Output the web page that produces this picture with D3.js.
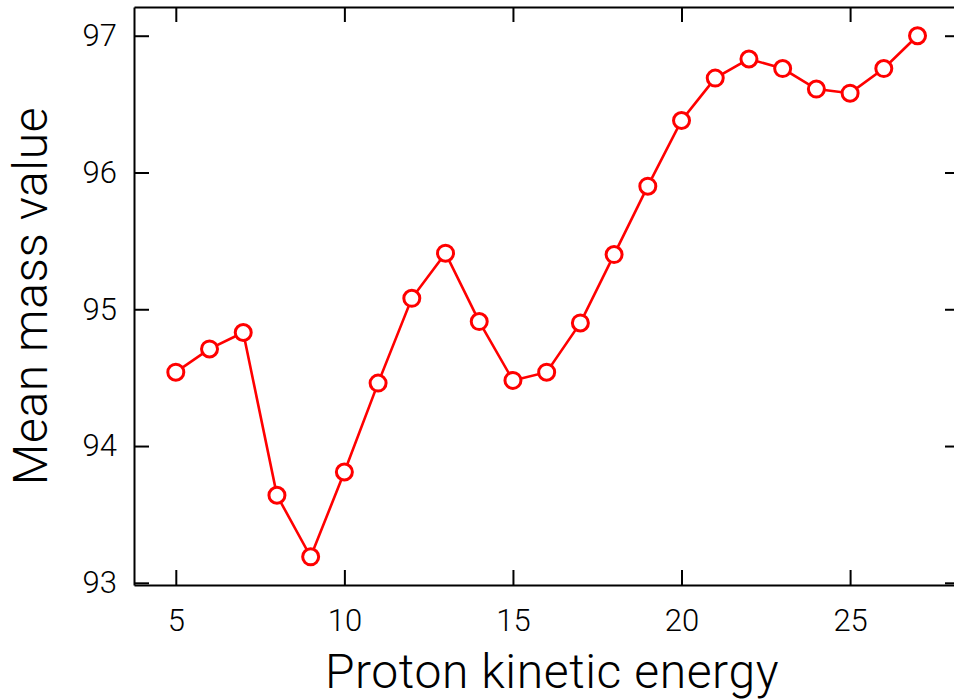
<!DOCTYPE html>
<html>
<head>
<meta charset="utf-8">
<script src="https://cdn.jsdelivr.net/npm/d3@7"></script>
<style>
  html, body { margin: 0; padding: 0; background: #fff; overflow: hidden; }
  svg { display: block; }
  .axis text { font-family: Roboto, "DejaVu Sans", sans-serif; font-weight: 300; fill: #000; }
  .title { font-family: Roboto, "DejaVu Sans", sans-serif; font-weight: 300; fill: #000; }
</style>
</head>
<body>
<div id="chart"></div>
<script>
// energia del protón (eje x)
const energias = [5, 6, 7, 8, 9, 10, 11, 12, 13, 14, 15, 16, 17, 18, 19, 20, 21, 22, 23, 24, 25, 26, 27];
// masa media
const masas = [94.54, 94.71, 94.83, 93.64, 93.19, 93.81, 94.46, 95.08, 95.41, 94.91, 94.48, 94.54,
               94.90, 95.40, 95.90, 96.38, 96.69, 96.83, 96.76, 96.61, 96.58, 96.76, 97.00];
const ticksX = [5, 10, 15, 20, 25];
const ticksY = [93, 94, 95, 96, 97];

const width = 954, height = 699;
const margin = { left: 134, right: -6, top: 7, bottom: 114 };

const svg = d3.select("#chart").append("svg")
    .attr("width", width)
    .attr("height", height);

const x = d3.scaleLinear()
    .domain([3.76, 28.26])
    .range([margin.left, width - margin.right]);

const y = d3.scaleLinear()
    .domain([92.984, 97.21])
    .range([height - margin.bottom, margin.top]);

const fontTicks = 31;

// ejes abajo e izquierda con etiquetas
const gx = svg.append("g")
    .attr("class", "axis")
    .attr("transform", `translate(0,${height - margin.bottom})`)
    .call(d3.axisBottom(x).tickValues(ticksX).tickFormat(d3.format("d"))
        .tickSizeInner(-15).tickSizeOuter(0).tickPadding(24));

const gy = svg.append("g")
    .attr("class", "axis")
    .attr("transform", `translate(${margin.left},0)`)
    .call(d3.axisLeft(y).tickValues(ticksY).tickFormat(d3.format("d"))
        .tickSizeInner(-15).tickSizeOuter(0).tickPadding(17));

// ejes arriba y derecha, solo marcas
const gt = svg.append("g")
    .attr("class", "axis")
    .attr("transform", `translate(0,${margin.top})`)
    .call(d3.axisTop(x).tickValues(ticksX).tickSizeInner(-15).tickSizeOuter(0).tickFormat(""));

const gr = svg.append("g")
    .attr("class", "axis")
    .attr("transform", `translate(${width - margin.right},0)`)
    .call(d3.axisRight(y).tickValues(ticksY).tickSizeInner(-15).tickSizeOuter(0).tickFormat(""));

[gx, gy, gt, gr].forEach(g => {
    g.selectAll(".domain").attr("stroke", "#000").attr("stroke-width", 2);
    g.selectAll(".tick line").attr("stroke", "#000").attr("stroke-width", 2);
    g.selectAll(".tick text").style("font-size", fontTicks + "px");
});

// títulos
svg.append("text")
    .attr("class", "title")
    .attr("x", 552)
    .attr("y", 688)
    .attr("text-anchor", "middle")
    .style("font-size", "48px")
    .style("letter-spacing", "0.6px")
    .text("Proton kinetic energy");

svg.append("text")
    .attr("class", "title")
    .attr("transform", `translate(47,${(margin.top + height - margin.bottom) / 2}) rotate(-90)`)
    .attr("text-anchor", "middle")
    .style("font-size", "48px")
    .style("letter-spacing", "0.6px")
    .text("Mean mass value");

// serie
const datos = energias.map((e, i) => ({ e: e, m: masas[i] }));

svg.append("path")
    .datum(datos)
    .attr("fill", "none")
    .attr("stroke", "#ff0000")
    .attr("stroke-width", 2.6)
    .attr("d", d3.line().x(d => x(d.e)).y(d => y(d.m)));

svg.selectAll(".punto")
    .data(datos)
    .enter()
    .append("circle")
    .attr("class", "punto")
    .attr("cx", d => x(d.e))
    .attr("cy", d => y(d.m))
    .attr("r", 8)
    .attr("fill", "#fff")
    .attr("stroke", "#ff0000")
    .attr("stroke-width", 3);
</script>
</body>
</html>
